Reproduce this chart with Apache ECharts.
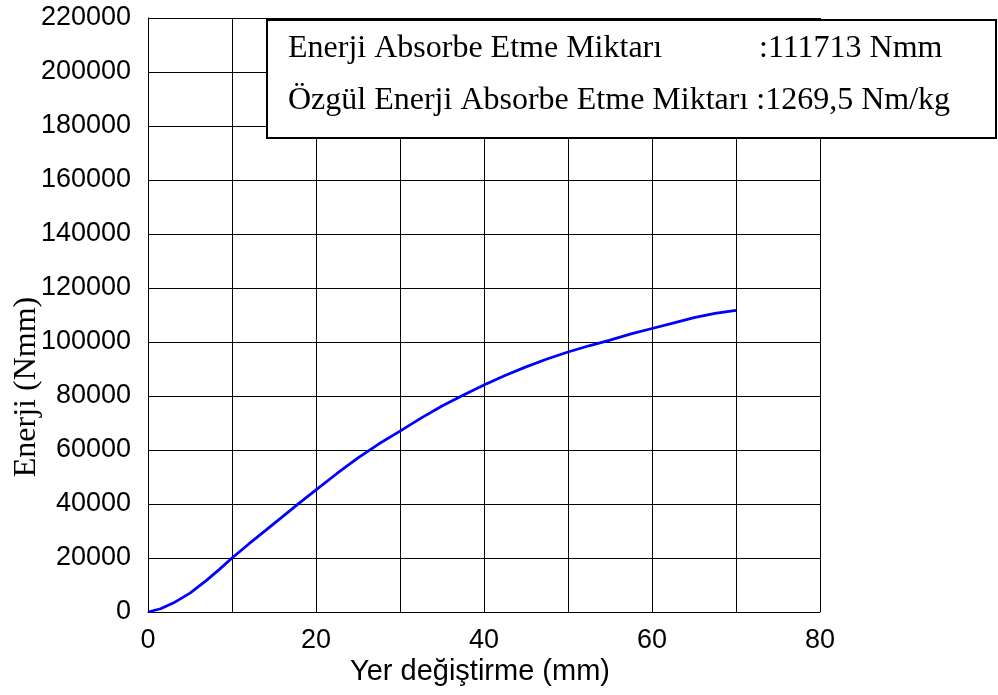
<!DOCTYPE html>
<html>
<head>
<meta charset="utf-8">
<script src="https://cdn.jsdelivr.net/npm/echarts@6/dist/echarts.min.js"></script>
<style>
  html, body { margin: 0; padding: 0; background: #fff; }
  #chart { width: 998px; height: 695px; }
</style>
</head>
<body>
<div id="chart"></div>
<script>
// Displacement (mm) and absorbed energy (Nmm)
const displacement = [0, 1.5, 3, 5, 7, 8.5, 10, 12, 14, 16.5, 18, 20, 22.5, 25, 27.5, 30, 32.5, 35, 37.5, 40, 42.5, 45, 47.5, 50, 52.5, 55, 57.5, 60, 62.5, 65, 67.5, 70];
const energy = [0, 1200, 3300, 7000, 11800, 15800, 20000, 25200, 30200, 36500, 40300, 45200, 51300, 57100, 62300, 67000, 71800, 76300, 80300, 84100, 87600, 90800, 93700, 96300, 98600, 100700, 103000, 105000, 107000, 109000, 110600, 111713];

const xTicks = [0, 20, 40, 60, 80];
const yTicks = [0, 20000, 40000, 60000, 80000, 100000, 120000, 140000, 160000, 180000, 200000, 220000];

const infoLine1Label = 'Enerji Absorbe Etme Miktarı';
const infoLine1Value = ':111713 Nmm';
const infoLine2 = 'Özgül Enerji Absorbe Etme Miktarı :1269,5 Nm/kg';
const xName = 'Yer değiştirme (mm)';
const yName = 'Enerji (Nmm)';

const chart = echarts.init(document.getElementById('chart'), null, { renderer: 'canvas' });

const sans = 'Arial, "Liberation Sans", sans-serif';
const serif = '"Times New Roman", "Liberation Serif", serif';

chart.setOption({
  animation: false,
  backgroundColor: '#ffffff',
  grid: { left: 148, right: 178, top: 18, bottom: 83, show: false },
  xAxis: {
    type: 'value',
    min: 0, max: 80, interval: 10,
    axisLine: { show: true, lineStyle: { color: '#000', width: 1 } },
    axisTick: { show: false },
    axisLabel: {
      color: '#000', fontFamily: sans, fontSize: 27, margin: 15,
      formatter: v => (xTicks.indexOf(v) >= 0 ? String(v) : '')
    },
    splitLine: { show: true, lineStyle: { color: '#000', width: 1 } }
  },
  yAxis: {
    type: 'value',
    min: 0, max: 220000, interval: 20000,
    axisLine: { show: true, lineStyle: { color: '#000', width: 1 } },
    axisTick: { show: false },
    axisLabel: {
      color: '#000', fontFamily: sans, fontSize: 27, margin: 17,
      formatter: v => (yTicks.indexOf(v) >= 0 ? String(v) : '')
    },
    splitLine: { show: true, lineStyle: { color: '#000', width: 1 } }
  },
  series: [{
    type: 'line',
    data: displacement.map((x, i) => [x, energy[i]]),
    showSymbol: false,
    lineStyle: { color: '#0000ff', width: 2.8 },
    itemStyle: { color: '#0000ff' }
  }],
  graphic: [
    {
      type: 'rect', z: 10,
      shape: { x: 267, y: 20, width: 729, height: 118 },
      style: { fill: '#fff', stroke: '#000', lineWidth: 2 }
    },
    {
      type: 'text', z: 11, left: 288, top: 33,
      style: { text: infoLine1Label, font: '32px ' + serif, fill: '#000' }
    },
    {
      type: 'text', z: 11, left: 759, top: 33,
      style: { text: infoLine1Value, font: '32px ' + serif, fill: '#000' }
    },
    {
      type: 'text', z: 11, left: 288, top: 85,
      style: { text: infoLine2, font: '32px ' + serif, fill: '#000' }
    },
    {
      type: 'text', z: 11,
      x: 350, y: 672,
      style: { text: xName, font: '29px ' + sans, fill: '#000', align: 'left', verticalAlign: 'middle' }
    },
    {
      type: 'text', z: 11,
      x: 27, y: 387, rotation: Math.PI / 2,
      style: { text: yName, font: '32px ' + serif, fill: '#000', align: 'center', verticalAlign: 'middle' }
    }
  ]
});
</script>
</body>
</html>
